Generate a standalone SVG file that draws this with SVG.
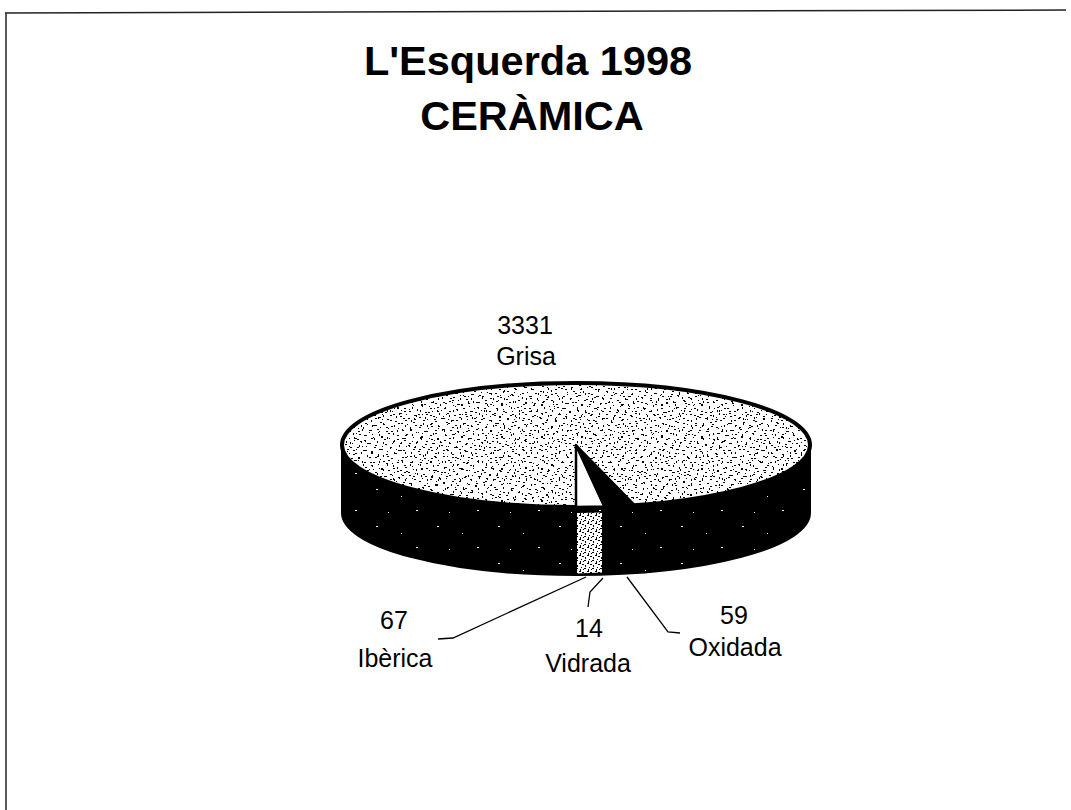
<svg xmlns="http://www.w3.org/2000/svg" width="1071" height="810" viewBox="0 0 1071 810">
<style>
.title{font-family:"Liberation Sans",Arial,sans-serif;font-weight:bold;font-size:41.5px;fill:#000;text-anchor:middle}
.lbl{font-family:"Liberation Sans",Arial,sans-serif;font-size:25px;fill:#000;text-anchor:middle}
.lead{fill:none;stroke:#000;stroke-width:1.3}
.frame{stroke:#222;stroke-width:1.5;fill:none}
</style>
<defs>
<pattern id="speck1" width="40" height="32" patternUnits="userSpaceOnUse">
<g fill="#000">
<rect x="3" y="2" width="2" height="1"/><rect x="11" y="4" width="1" height="2"/><rect x="19" y="1" width="2" height="1"/><rect x="27" y="3" width="1" height="1"/><rect x="35" y="5" width="2" height="1"/>
<rect x="7" y="8" width="1" height="1"/><rect x="15" y="9" width="2" height="1"/><rect x="23" y="7" width="1" height="2"/><rect x="31" y="10" width="2" height="1"/><rect x="38" y="12" width="1" height="1"/>
<rect x="2" y="13" width="1" height="2"/><rect x="10" y="14" width="2" height="1"/><rect x="18" y="16" width="1" height="1"/><rect x="26" y="15" width="2" height="1"/><rect x="33" y="17" width="1" height="2"/>
<rect x="5" y="19" width="2" height="1"/><rect x="13" y="21" width="1" height="1"/><rect x="21" y="20" width="2" height="2"/><rect x="29" y="22" width="1" height="1"/><rect x="37" y="23" width="2" height="1"/>
<rect x="1" y="26" width="1" height="1"/><rect x="9" y="27" width="2" height="1"/><rect x="17" y="25" width="1" height="2"/><rect x="25" y="28" width="2" height="1"/><rect x="32" y="27" width="1" height="1"/>
<rect x="39" y="29" width="1" height="2"/><rect x="6" y="30" width="1" height="1"/><rect x="14" y="31" width="2" height="1"/><rect x="22" y="30" width="1" height="1"/><rect x="30" y="31" width="2" height="1"/>
<rect x="36" y="1" width="1" height="1"/><rect x="12" y="18" width="1" height="1"/><rect x="28" y="12" width="1" height="1"/><rect x="4" y="24" width="2" height="1"/><rect x="20" y="11" width="1" height="1"/><rect x="34" y="24" width="1" height="1"/>
</g>
</pattern>
<pattern id="speck2" width="33" height="27" patternUnits="userSpaceOnUse">
<g fill="#000">
<rect x="1" y="3" width="2" height="1"/><rect x="8" y="6" width="2" height="1"/><rect x="16" y="2" width="1" height="2"/><rect x="24" y="5" width="1" height="2"/><rect x="30" y="9" width="2" height="1"/>
<rect x="4" y="11" width="2" height="1"/><rect x="12" y="13" width="2" height="1"/><rect x="20" y="10" width="1" height="2"/><rect x="27" y="15" width="2" height="1"/><rect x="2" y="18" width="2" height="1"/>
<rect x="9" y="20" width="1" height="2"/><rect x="17" y="17" width="2" height="1"/><rect x="23" y="22" width="2" height="1"/><rect x="31" y="20" width="1" height="2"/><rect x="6" y="25" width="2" height="1"/>
<rect x="14" y="24" width="2" height="1"/><rect x="28" y="26" width="2" height="1"/><rect x="19" y="14" width="1" height="1"/><rect x="26" y="1" width="1" height="1"/>
</g>
</pattern>
<pattern id="speck3" width="47" height="37" patternUnits="userSpaceOnUse">
<g fill="#000">
<rect x="5" y="5" width="2" height="1"/><rect x="14" y="3" width="1" height="2"/><rect x="24" y="6" width="2" height="1"/><rect x="33" y="2" width="1" height="1"/><rect x="42" y="7" width="2" height="1"/>
<rect x="2" y="10" width="1" height="2"/><rect x="11" y="12" width="2" height="1"/><rect x="20" y="9" width="1" height="1"/><rect x="29" y="13" width="2" height="1"/><rect x="38" y="11" width="1" height="2"/>
<rect x="7" y="17" width="2" height="1"/><rect x="16" y="19" width="1" height="1"/><rect x="25" y="16" width="2" height="1"/><rect x="34" y="20" width="1" height="2"/><rect x="44" y="18" width="2" height="1"/>
<rect x="3" y="24" width="1" height="1"/><rect x="12" y="26" width="2" height="1"/><rect x="21" y="23" width="1" height="2"/><rect x="30" y="27" width="2" height="1"/><rect x="40" y="25" width="1" height="1"/>
<rect x="8" y="32" width="2" height="1"/><rect x="17" y="34" width="1" height="2"/><rect x="26" y="31" width="2" height="1"/><rect x="36" y="34" width="1" height="1"/><rect x="45" y="31" width="1" height="2"/>
</g>
</pattern>
<pattern id="sidedots" width="61" height="37" patternUnits="userSpaceOnUse">
<rect width="61" height="37" fill="#000"/>
<g fill="#fff">
<rect x="10" y="8" width="2" height="1"/><rect x="35" y="15" width="1" height="1"/><rect x="50" y="29" width="2" height="1"/><rect x="22" y="31" width="1" height="1"/>
</g>
</pattern>
<pattern id="scribble" width="8" height="8" patternUnits="userSpaceOnUse">
<rect width="8" height="8" fill="#fff"/>
<g fill="#000">
<rect x="0" y="0" width="2" height="1"/><rect x="4" y="1" width="1" height="2"/><rect x="6" y="4" width="2" height="1"/><rect x="1" y="5" width="1" height="2"/><rect x="3" y="3" width="2" height="1"/><rect x="5" y="7" width="1" height="1"/><rect x="7" y="1" width="1" height="1"/>
</g>
</pattern>
</defs>

<rect width="1071" height="810" fill="#fff"/>
<g id="frame">
<line class="frame" x1="5" y1="13" x2="1066" y2="10"/>
<line class="frame" x1="6" y1="13" x2="6" y2="810"/>
</g>

<g id="title">
<text class="title" x="528" y="75">L'Esquerda 1998</text>
<text class="title" x="532" y="130">CERÀMICA</text>
</g>

<g id="pie">
<g id="side">
<path d="M342 445 L342 513 A234 62 0 0 0 810 513 L810 445 A234 62 0 0 1 342 445 Z" fill="url(#sidedots)" stroke="#000" stroke-width="2"/>
<path d="M577 513 L602 512.5 L602 572.5 L577 573.5 Z" fill="url(#scribble)"/>
</g>
<g id="grisa">
<ellipse cx="576" cy="445" rx="234" ry="62" fill="#fff"/>
<ellipse cx="576" cy="445" rx="234" ry="62" fill="url(#speck1)"/>
<ellipse cx="576" cy="445" rx="234" ry="62" fill="url(#speck3)"/>
<ellipse cx="576" cy="445" rx="234" ry="62" fill="url(#speck2)" stroke="#000" stroke-width="4"/>
</g>
<g id="iberica">
<path d="M576 445 L576 507 A234 62 0 0 0 604.3 506.5 Z" fill="#fff" stroke="#000" stroke-width="2.5" stroke-linejoin="round"/>
</g>
<g id="vidrada-oxidada">
<path d="M576 445 L604.3 506.5 A234 62 0 0 0 634.7 505 Z" fill="#000" stroke="#000" stroke-width="2"/>
</g>
</g>

<g id="connectors">
<path class="lead" d="M586 577 L453 638 L438 639"/>
<path class="lead" d="M603 578 L590 592 L588 607"/>
<path class="lead" d="M627 577 L668 632 L680 633"/>
</g>

<g id="labels">
<g id="label-grisa"><text class="lbl" x="525" y="334">3331</text><text class="lbl" x="526" y="365">Grisa</text></g>
<g id="label-iberica"><text class="lbl" x="394" y="629">67</text><text class="lbl" x="395" y="667">Ibèrica</text></g>
<g id="label-vidrada"><text class="lbl" x="589" y="637">14</text><text class="lbl" x="588" y="672">Vidrada</text></g>
<g id="label-oxidada"><text class="lbl" x="734" y="624">59</text><text class="lbl" x="735" y="656">Oxidada</text></g>
</g>
</svg>
